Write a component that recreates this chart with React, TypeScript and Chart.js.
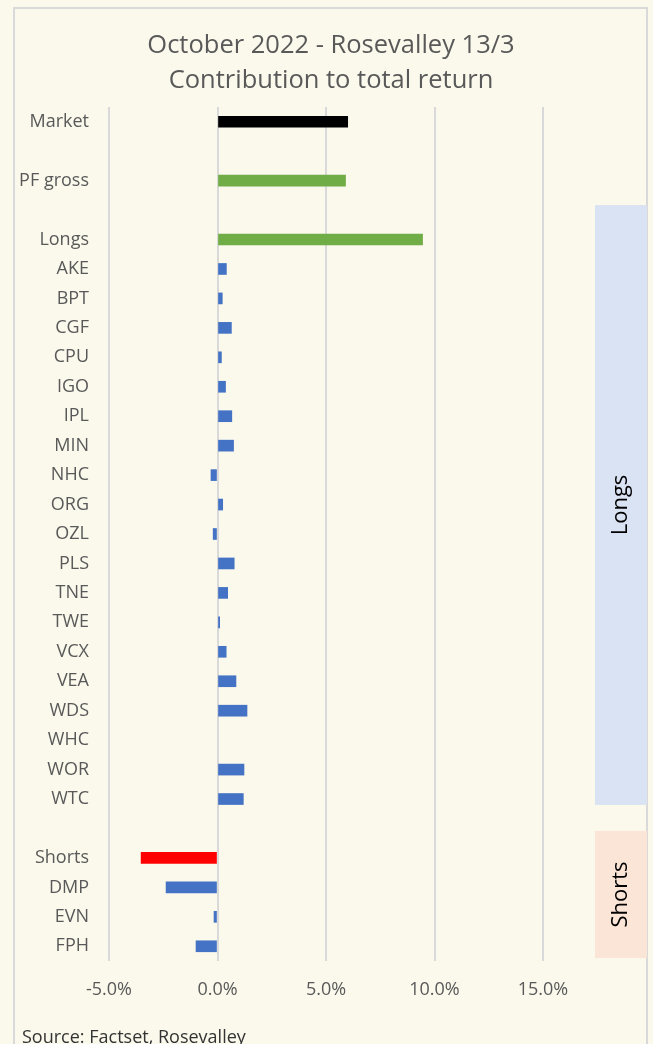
import React, { useEffect, useRef } from "react";
import { Chart, registerables } from "chart.js";

Chart.register(...registerables);

const categories = [
  "Market", "", "PF gross", "", "Longs",
  "AKE", "BPT", "CGF", "CPU", "IGO", "IPL", "MIN", "NHC", "ORG", "OZL",
  "PLS", "TNE", "TWE", "VCX", "VEA", "WDS", "WHC", "WOR", "WTC",
  "", "Shorts", "DMP", "EVN", "FPH",
];
const contribution: (number | null)[] = [
  6.0, null, 5.9, null, 9.45,
  0.41, 0.22, 0.64, 0.18, 0.37, 0.66, 0.74, -0.3, 0.24, -0.2,
  0.77, 0.47, 0.1, 0.4, 0.85, 1.36, 0, 1.22, 1.19,
  null, -3.52, -2.37, -0.16, -0.99,
];
const xTicks = [-5, 0, 5, 10, 15];
const titleLines = ["October 2022 - Rosevalley 13/3", "Contribution to total return"];
const sourceNote = "Source: Factset, Rosevalley";
const groupLabels = ["Longs", "Shorts"];
const groupFirst = ["Longs", "Shorts"];
const groupLast = ["WTC", "FPH"];

const FONT = "'Open Sans', sans-serif";
const BG = "#FBF9EC";

const colorFor = (c: string) => {
  if (c === "Market") return "#000000";
  if (c === "PF gross" || c === "Longs") return "#70AD47";
  if (c === "Shorts") return "#FF0000";
  return "#4472C4";
};

const groupStyle = [
  { fill: "#DAE3F3", padTop: 1.17, padBottom: 0.2 },
  { fill: "#FBE5D6", padTop: 0.92, padBottom: 0.4 },
];

const decorPlugin = {
  id: "decor",
  beforeDraw(chart: any) {
    const { ctx, width, height, chartArea } = chart;
    ctx.save();
    ctx.fillStyle = BG;
    ctx.fillRect(0, 0, width, height);
    ctx.strokeStyle = "#D9D9D9";
    ctx.lineWidth = 2;
    ctx.strokeRect(14, 8, 633, height + 20);

    // title
    ctx.fillStyle = "#595959";
    ctx.font = `25.5px ${FONT}`;
    ctx.textAlign = "center";
    ctx.textBaseline = "middle";
    titleLines.forEach((line, i) => {
      ctx.fillText(line, 331, 46 + i * 35);
    });

    const y = chart.scales.y;
    const step = (chartArea.bottom - chartArea.top) / categories.length;
    const x0 = chartArea.right + 52;
    const x1 = chartArea.right + 104;
    groupLabels.forEach((lab, i) => {
      const st = groupStyle[i];
      const top = y.getPixelForValue(categories.indexOf(groupFirst[i])) - st.padTop * step;
      const bottom = y.getPixelForValue(categories.indexOf(groupLast[i])) + st.padBottom * step;
      ctx.fillStyle = st.fill;
      ctx.fillRect(x0, top, x1 - x0, bottom - top);
      ctx.save();
      ctx.translate((x0 + x1) / 2, (top + bottom) / 2);
      ctx.rotate(-Math.PI / 2);
      ctx.fillStyle = "#000000";
      ctx.font = `22px ${FONT}`;
      ctx.textAlign = "center";
      ctx.textBaseline = "middle";
      ctx.fillText(lab, 0, 0);
      ctx.restore();
    });
    ctx.restore();
  },
  afterDraw(chart: any) {
    const { ctx } = chart;
    ctx.save();
    ctx.fillStyle = "#333333";
    ctx.font = `18px ${FONT}`;
    ctx.textAlign = "left";
    ctx.textBaseline = "alphabetic";
    ctx.fillText(sourceNote, 22, 1043);
    ctx.restore();
  },
};

export default function App() {
  const ref = useRef<HTMLCanvasElement | null>(null);

  useEffect(() => {
    document.body.style.margin = "0";
    document.body.style.background = BG;
    const canvas = ref.current;
    if (!canvas) return;
    const chart = new Chart(canvas, {
      type: "bar",
      data: {
        labels: categories,
        datasets: [
          {
            data: contribution as any,
            backgroundColor: (c: any) =>
              c.raw === 0 ? "rgba(0,0,0,0)" : colorFor(categories[c.dataIndex]),
            barThickness: 11,
            borderWidth: 0,
          },
        ],
      },
      plugins: [decorPlugin],
      options: {
        indexAxis: "y",
        animation: false,
        responsive: false,
        devicePixelRatio: 1,
        layout: { padding: { left: 0, right: 110, top: 107, bottom: 43 } },
        plugins: {
          legend: { display: false },
          tooltip: { enabled: false },
          title: { display: false },
        },
        scales: {
          x: {
            type: "linear",
            min: -5,
            max: 15,
            afterBuildTicks: (s: any) => {
              s.ticks = xTicks.map((v) => ({ value: v }));
            },
            afterFit: (s: any) => {
              s.height = 40;
            },
            grid: { color: "#D9D9D9", lineWidth: 2, drawTicks: false, tickLength: 0 },
            border: { display: false },
            ticks: {
              padding: 18,
              color: "#595959",
              font: { family: FONT, size: 18 },
              callback: (v: any) => Number(v).toFixed(1) + "%",
            },
          },
          y: {
            type: "category",
            afterFit: (s: any) => {
              s.width = 109;
            },
            grid: { display: false, drawTicks: false, tickLength: 0 },
            border: { display: false },
            ticks: {
              padding: 20,
              color: "#595959",
              font: { family: FONT, size: 18 },
              autoSkip: false,
            },
          },
        },
      },
    } as any);
    return () => chart.destroy();
  }, []);

  return (
    <canvas
      ref={ref}
      width={653}
      height={1044}
      style={{ display: "block", width: 653, height: 1044 }}
    />
  );
}
